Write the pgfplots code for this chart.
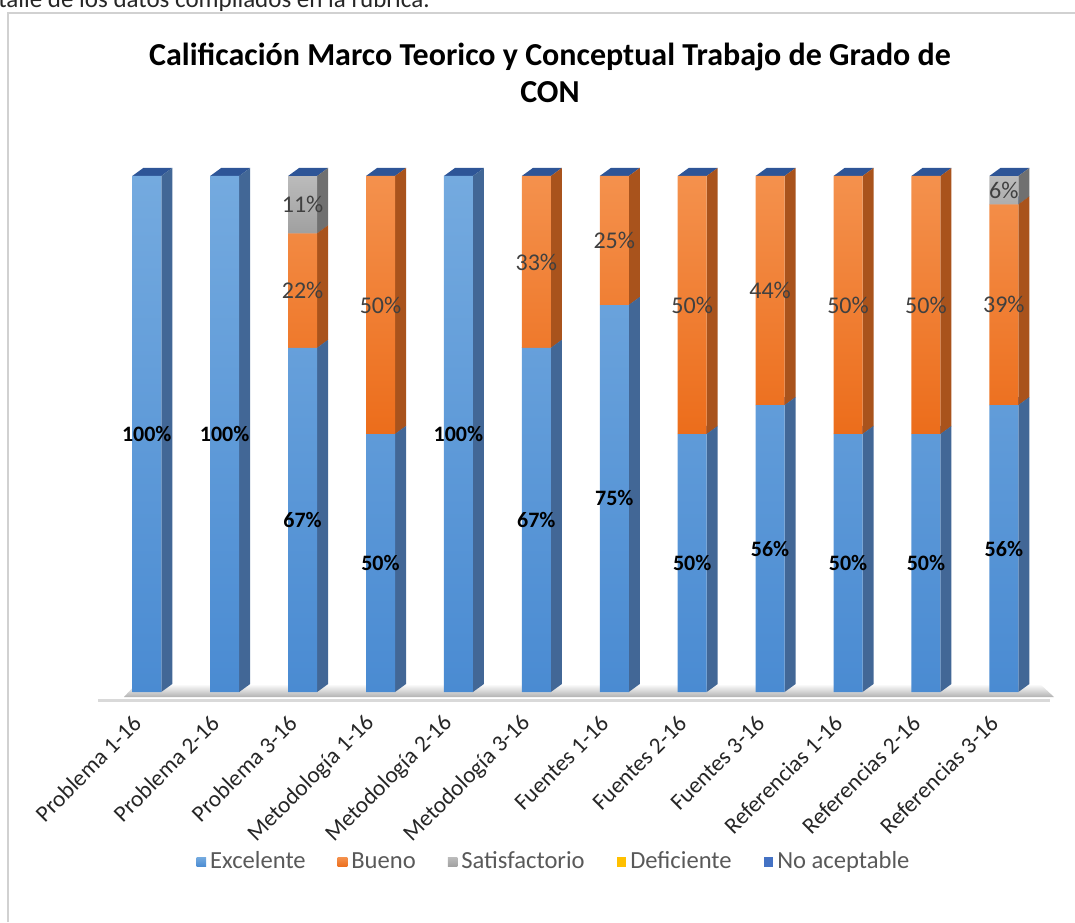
\documentclass[border=0pt]{standalone}
\usepackage{pgfplots}
\pgfplotsset{compat=1.18}
\usepackage{pgfplotstable}
\usepackage{fontspec}
\setmainfont{Carlito}

\definecolor{exTop}{HTML}{74AADF}
\definecolor{exBot}{HTML}{4A8BD2}
\definecolor{exSide}{HTML}{426796}
\definecolor{buTop}{HTML}{F4914D}
\definecolor{buBot}{HTML}{EC6D1B}
\definecolor{buSide}{HTML}{A9531C}
\definecolor{saTop}{HTML}{BBBBBB}
\definecolor{saBot}{HTML}{A0A0A0}
\definecolor{saSide}{HTML}{707070}
\definecolor{deCol}{HTML}{FFC000}
\definecolor{naCol}{HTML}{4472C4}
\definecolor{naTop}{HTML}{2E5597}
\definecolor{lblGray}{HTML}{404040}
\definecolor{legGray}{HTML}{595959}

% x = category index, y = percentage, lab = printed label (0 = none)
\pgfplotstableread{
x y lab
0 100 100
1 100 100
2 66.7 67
3 50 50
4 100 100
5 66.7 67
6 75 75
7 50 50
8 55.6 56
9 50 50
10 50 50
11 55.6 56
}\excelente
\pgfplotstableread{
x y lab
0 0 0
1 0 0
2 22.2 22
3 50 50
4 0 0
5 33.3 33
6 25 25
7 50 50
8 44.4 44
9 50 50
10 50 50
11 38.9 39
}\bueno
\pgfplotstableread{
x y lab
0 0 0
1 0 0
2 11.1 11
3 0 0
4 0 0
5 0 0
6 0 0
7 0 0
8 0 0
9 0 0
10 0 0
11 5.5 6
}\satisf
\pgfplotstableread{
x y lab
0 0 0
1 0 0
2 0 0
3 0 0
4 0 0
5 0 0
6 0 0
7 0 0
8 0 0
9 0 0
10 0 0
11 0 0
}\defic
\pgfplotstableread{
x y lab
0 0 0
1 0 0
2 0 0
3 0 0
4 0 0
5 0 0
6 0 0
7 0 0
8 0 0
9 0 0
10 0 0
11 0 0
}\noacep

% bar outlines turned into 3D faces (side face / top face)
\makeatletter
\def\my@getrect#1#2{%
  \pgf@process{#1}\edef\my@rx{\the\pgf@x}\edef\my@ry{\the\pgf@y}%
  \pgf@process{#2}\edef\my@rw{\the\pgf@x}\edef\my@rh{\the\pgf@y}%
  \pgfmathsetmacro\my@xa{min(\my@rx,\my@rx+\my@rw)}%
  \pgfmathsetmacro\my@xb{max(\my@rx,\my@rx+\my@rw)}%
  \pgfmathsetmacro\my@ya{min(\my@ry,\my@ry+\my@rh)}%
  \pgfmathsetmacro\my@yb{max(\my@ry,\my@ry+\my@rh)}%
}
\def\sideRect#1#2{%
  \my@getrect{#1}{#2}%
  \pgfpathmoveto{\pgfqpoint{\my@xa pt}{\my@ya pt}}%
  \pgfpathlineto{\pgfqpoint{\my@xb pt}{\dimexpr\my@ya pt+4pt\relax}}%
  \pgfpathlineto{\pgfqpoint{\my@xb pt}{\dimexpr\my@yb pt+4pt\relax}}%
  \pgfpathlineto{\pgfqpoint{\my@xa pt}{\my@yb pt}}%
  \pgfpathclose}
\def\topRect#1#2{%
  \my@getrect{#1}{#2}%
  \pgfpathmoveto{\pgfqpoint{\my@xa pt}{\my@yb pt}}%
  \pgfpathlineto{\pgfqpoint{\my@xb pt}{\my@yb pt}}%
  \pgfpathlineto{\pgfqpoint{\dimexpr\my@xb pt+5.5pt\relax}{\dimexpr\my@yb pt+4pt\relax}}%
  \pgfpathlineto{\pgfqpoint{\dimexpr\my@xa pt+5.5pt\relax}{\dimexpr\my@yb pt+4pt\relax}}%
  \pgfpathclose}
\makeatother

\pgfplotsset{
  common/.style={
    at={(50pt,115pt)}, anchor=south west,
    scale only axis, width=477.25pt, height=258pt,
    ybar stacked,
    xmin=-0.6, xmax=11.65, ymin=0, ymax=100,
    enlargelimits=false, clip=false,
  },
  seg/.style n args={4}{
    draw=none, top color=#1, bottom color=#2,
    point meta=explicit symbolic,
    nodes near coords={\ifnum\pgfplotspointmeta=0 \else\pgfplotspointmeta\%\fi},
    nodes near coords align=center,
    every node near coord/.style={anchor=center, inner sep=0pt, text=#3, font=#4},
  },
}

\begin{document}
\begin{tikzpicture}
\useasboundingbox (0,0) rectangle (537.5pt,461pt);
% cut-off text of the page above the chart
\node[anchor=base west, inner sep=0pt, font=\fontsize{12.5}{15}\selectfont, text=black!85] at (-1pt,457pt) {talle de los datos compilados en la rúbrica.};
% chart frame
\draw[black!18, line width=0.9pt] (4pt,0pt) -- (4pt,454.5pt) -- (540pt,454.5pt);
% floor and shadow
\shade[top color=white, bottom color=black!30] (62pt,112.5pt) -- (527pt,112.5pt) -- (520pt,119pt) -- (68pt,119pt) -- cycle;
\draw[black!15, line width=1.5pt] (49pt,111pt) -- (525pt,111pt);
% title
\node[align=center, font=\bfseries\fontsize{16}{18.5}\selectfont] at (275pt,424.5pt)
  {Calificación Marco Teorico y Conceptual Trabajo de Grado de\\CON};

% top faces (only the top one of each stack stays visible)
\begingroup
\let\pgfpathrectangle\topRect
\begin{axis}[common, hide axis, bar width=14.5pt]
\addplot[draw=none, fill=naTop] table[x=x,y=y]{\excelente};
\addplot[draw=none, fill=naTop] table[x=x,y=y]{\bueno};
\addplot[draw=none, fill=naTop] table[x=x,y=y]{\satisf};
\end{axis}
\endgroup

% side faces
\begingroup
\let\pgfpathrectangle\sideRect
\begin{axis}[common, hide axis, bar width=5.5pt, bar shift=10pt]
\addplot[draw=none, fill=exSide] table[x=x,y=y]{\excelente};
\addplot[draw=none, fill=buSide] table[x=x,y=y]{\bueno};
\addplot[draw=none, fill=saSide] table[x=x,y=y]{\satisf};
\end{axis}
\endgroup

% front faces, labels, ticks, legend
\begin{axis}[common, bar width=14.5pt,
  axis line style={draw=none}, tick style={draw=none},
  ytick=\empty,
  xtick={0,...,11},
  xticklabels={Problema 1-16,Problema 2-16,Problema 3-16,Metodología 1-16,Metodología 2-16,Metodología 3-16,Fuentes 1-16,Fuentes 2-16,Fuentes 3-16,Referencias 1-16,Referencias 2-16,Referencias 3-16},
  xticklabel style={font=\fontsize{11.6}{14}\selectfont, text=black!85, anchor=east, yshift=-13pt, xshift=-4pt, rotate=45, inner sep=1pt},
  legend columns=5,
  legend style={draw=none, fill=none, at={(0.4767,-0.3295)}, anchor=center,
    font=\fontsize{12.3}{14}\selectfont, text=legGray,
    nodes={text height=8.6pt, text depth=2.6pt},
    /tikz/every even column/.append style={column sep=14pt}},
  legend image code/.code={\fill[#1] (0pt,-2.4pt) rectangle (4.8pt,2.4pt);},
]
\addplot[seg={exTop}{exBot}{black}{\bfseries\fontsize{11}{13}\selectfont}] table[x=x,y=y,meta=lab]{\excelente};
\addplot[seg={buTop}{buBot}{lblGray}{\fontsize{12}{14}\selectfont}] table[x=x,y=y,meta=lab]{\bueno};
\addplot[seg={saTop}{saBot}{lblGray}{\fontsize{12}{14}\selectfont}] table[x=x,y=y,meta=lab]{\satisf};
\addplot[draw=none, fill=deCol] table[x=x,y=y]{\defic};
\addplot[draw=none, fill=naCol] table[x=x,y=y]{\noacep};
\legend{Excelente,Bueno,Satisfactorio,Deficiente,No aceptable}
\end{axis}
\end{tikzpicture}
\end{document}
